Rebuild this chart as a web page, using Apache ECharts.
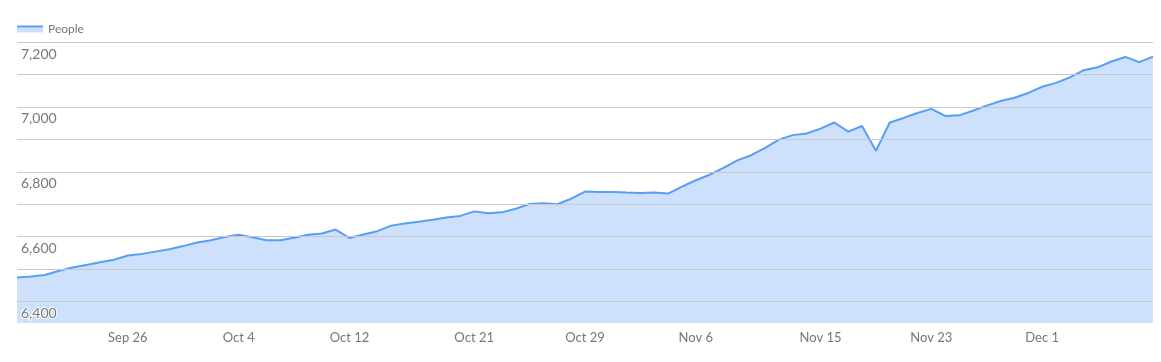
<!DOCTYPE html>
<html>
<head>
<meta charset="utf-8">
<script src="https://cdn.jsdelivr.net/npm/echarts@6/dist/echarts.min.js"></script>
<style>
html,body{margin:0;padding:0;background:#fff;}
#chart{width:1161px;height:362px;}
</style>
</head>
<body>
<div id="chart"></div>
<script>
const seriesName = 'People';
const categories = [
  'Sep 18','Sep 19','Sep 20','Sep 21','Sep 22','Sep 23','Sep 24','Sep 25','Sep 26','Sep 27','Sep 28','Sep 29','Sep 30',
  'Oct 1','Oct 2','Oct 3','Oct 4','Oct 5','Oct 6','Oct 7','Oct 8','Oct 9','Oct 10','Oct 11','Oct 12','Oct 13','Oct 14','Oct 15','Oct 16','Oct 17','Oct 18','Oct 19','Oct 20','Oct 21','Oct 22','Oct 23','Oct 24','Oct 25','Oct 26','Oct 27','Oct 28','Oct 29','Oct 30','Oct 31',
  'Nov 1','Nov 2','Nov 3','Nov 4','Nov 5','Nov 6','Nov 7','Nov 8','Nov 9','Nov 10','Nov 11','Nov 12','Nov 13','Nov 14','Nov 15','Nov 16','Nov 17','Nov 18','Nov 19','Nov 20','Nov 21','Nov 22','Nov 23','Nov 24','Nov 25','Nov 26','Nov 27','Nov 28','Nov 29','Nov 30',
  'Dec 1','Dec 2','Dec 3','Dec 4','Dec 5','Dec 6','Dec 7','Dec 8','Dec 9'
];
const people = [
  6474,6477,6482,6494,6505,6513,6521,6529,6542,6547,6554,6561,6571,
  6582,6589,6599,6606,6598,6589,6589,6597,6606,6610,6622,6596,6607,6617,6634,6641,6646,6652,6659,6664,6678,6672,6675,6686,6701,6703,6700,6717,6739,6738,6738,
  6736,6735,6736,6733,6754,6774,6791,6812,6835,6851,6874,6899,6913,6918,6933,6952,6924,6941,6865,6952,6966,6981,6994,6972,6974,6988,7004,7018,7028,7043,
  7062,7074,7091,7113,7122,7140,7154,7138,7155
];
const xTickLabels = ['Sep 26','Oct 4','Oct 12','Oct 21','Oct 29','Nov 6','Nov 15','Nov 23','Dec 1'];
const yGridValues = [6400,6500,6600,6700,6800,6900,7000,7100,7200];
const yLabelValues = [6400,6600,6800,7000,7200];
const yMin = 6334;
const yMax = 7200;

const lineColor = '#589df6';
const font = 'Lato, "Noto Sans", sans-serif';

const chart = echarts.init(document.getElementById('chart'), null, {renderer: 'canvas'});
chart.setOption({
  animation: false,
  backgroundColor: '#ffffff',
  legend: {
    left: 17,
    top: 23,
    padding: 0,
    itemWidth: 26,
    itemHeight: 7,
    icon: 'rect',
    itemStyle: {
      color: {
        type: 'linear', x: 0, y: 0, x2: 0, y2: 1,
        colorStops: [
          {offset: 0, color: lineColor},
          {offset: 0.28, color: lineColor},
          {offset: 0.29, color: '#cce0fb'},
          {offset: 1, color: '#cce0fb'}
        ]
      },
      borderWidth: 0
    },
    textStyle: {color: '#777777', fontSize: 12, fontFamily: font},
    selectedMode: false
  },
  grid: {left: 17, right: 8, top: 42, bottom: 39, containLabel: false},
  xAxis: {
    type: 'category',
    data: categories,
    boundaryGap: false,
    axisLine: {show: false},
    axisTick: {show: false},
    splitLine: {show: false},
    axisLabel: {
      color: '#777777',
      fontSize: 13,
      fontFamily: font,
      margin: 8,
      interval: function (idx, val) { return xTickLabels.indexOf(val) !== -1; }
    }
  },
  yAxis: {
    type: 'value',
    min: yMin,
    max: yMax,
    axisLine: {show: false},
    axisTick: {show: false, customValues: yGridValues},
    splitLine: {show: true, lineStyle: {color: '#c9c9c9', width: 1}},
    axisLabel: {
      customValues: yLabelValues,
      inside: true,
      margin: 4,
      verticalAlign: 'top',
      padding: [5, 0, 0, 0],
      color: '#777777',
      fontSize: 14,
      fontFamily: font,
      textBorderColor: '#ffffff',
      textBorderWidth: 2
    },
    z: 10
  },
  series: [{
    name: seriesName,
    type: 'line',
    data: people,
    showSymbol: false,
    symbol: 'none',
    smooth: false,
    color: lineColor,
    lineStyle: {color: lineColor, width: 2},
    areaStyle: {color: lineColor, opacity: 0.3},
    emphasis: {disabled: true},
    z: 2
  }]
});
</script>
</body>
</html>
